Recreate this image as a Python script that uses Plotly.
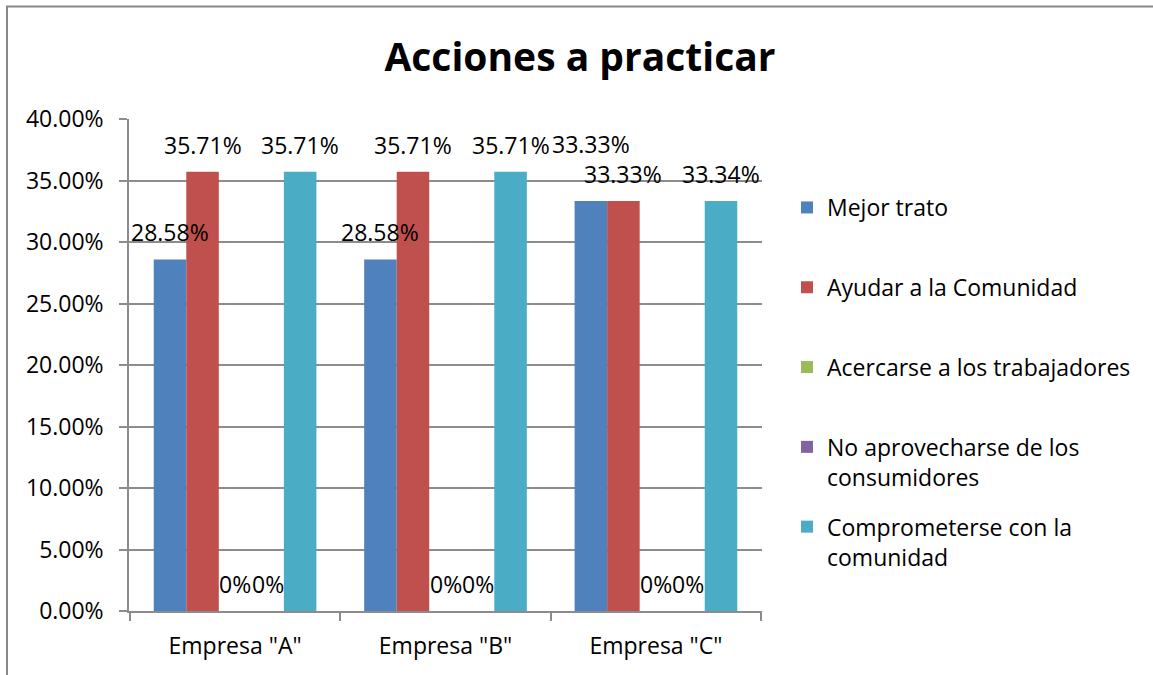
import plotly.graph_objects as go

categories = ['Empresa "A"', 'Empresa "B"', 'Empresa "C"']
series_names = [
    "Mejor trato",
    "Ayudar a la Comunidad",
    "Acercarse a los trabajadores",
    "No aprovecharse de los<br>consumidores",
    "Comprometerse con la<br>comunidad",
]
mejor_trato = [0.2858, 0.2858, 0.3333]
ayudar_comunidad = [0.3571, 0.3571, 0.3333]
acercarse_trabajadores = [0.0, 0.0, 0.0]
no_aprovecharse = [0.0, 0.0, 0.0]
comprometerse = [0.3571, 0.3571, 0.3334]
y_ticks = [0, 0.05, 0.10, 0.15, 0.20, 0.25, 0.30, 0.35, 0.40]

series_values = [mejor_trato, ayudar_comunidad, acercarse_trabajadores,
                 no_aprovecharse, comprometerse]
colors = ["#4F81BD", "#C0504D", "#9BBB59", "#8064A2", "#4BACC6"]

FONT = "Open Sans"
GRID = "#8c8c8c"
BARGAP = 0.227

fig = go.Figure()
for k, (name, vals) in enumerate(zip(series_names, series_values)):
    legend_name = name if "<br>" in name else name + "<br>&nbsp;"
    fig.add_trace(go.Bar(
        x=categories, y=vals, name=legend_name,
        marker=dict(color=colors[k], line=dict(width=0)),
        legendgroup=f"g{k}",
    ))

# data labels
n = len(series_names)
w = (1 - BARGAP) / n
for k, vals in enumerate(series_values):
    for i, v in enumerate(vals):
        txt = f"{v*100:.2f}%" if v else "0%"
        shift = 27
        if k == 0 and i == 2:
            shift = 57
        fig.add_annotation(
            x=i + (k - (n - 1) / 2) * w, y=v, xref="x", yref="y",
            text=txt, showarrow=False, yanchor="middle", yshift=shift,
            font=dict(family=FONT, size=23, color="black"),
        )

# chart border (top and left edges visible)
fig.add_shape(type="rect", xref="paper", yref="paper",
              x0=(7 - 129) / 633, x1=2.0, y0=-1.0, y1=(611 - 6.5) / 492,
              line=dict(color="#888888", width=2), layer="below")

fig.update_layout(
    width=1153, height=675,
    margin=dict(l=129, r=391, t=119, b=64),
    paper_bgcolor="white", plot_bgcolor="white",
    barmode="group", bargap=BARGAP, bargroupgap=0,
    title=dict(text="Acciones a practicar", x=0.503, xanchor="center",
               y=1 - 57 / 675, yanchor="middle", yref="container",
               font=dict(family=FONT, size=39, color="black", weight="bold")),
    font=dict(family=FONT, size=23, color="black"),
    legend=dict(x=(787 - 129) / 633, xanchor="left",
                y=(611 - 186) / 492, yanchor="top",
                valign="top", tracegroupgap=17,
                font=dict(family=FONT, size=23, color="black"),
                bgcolor="rgba(0,0,0,0)"),
    showlegend=True,
)
fig.update_xaxes(
    type="category", showgrid=False, showline=True, linecolor=GRID, linewidth=1.5,
    ticks="outside", tickson="boundaries", ticklen=8, tickcolor=GRID, tickwidth=1.5,
    ticklabelstandoff=14, tickfont=dict(family=FONT, size=23, color="black"),
)
fig.update_yaxes(
    range=[0, 0.40], tickvals=y_ticks, tickformat=".2%",
    showgrid=True, gridcolor=GRID, gridwidth=1.5,
    showline=True, linecolor=GRID, linewidth=1.5,
    ticks="outside", ticklen=8, tickcolor=GRID, tickwidth=1.5,
    ticklabelstandoff=11, zeroline=False,
    tickfont=dict(family=FONT, size=23, color="black"),
)

fig.write_html("out.html", config={"displayModeBar": False},
               post_script="document.body.style.margin='0px';")
